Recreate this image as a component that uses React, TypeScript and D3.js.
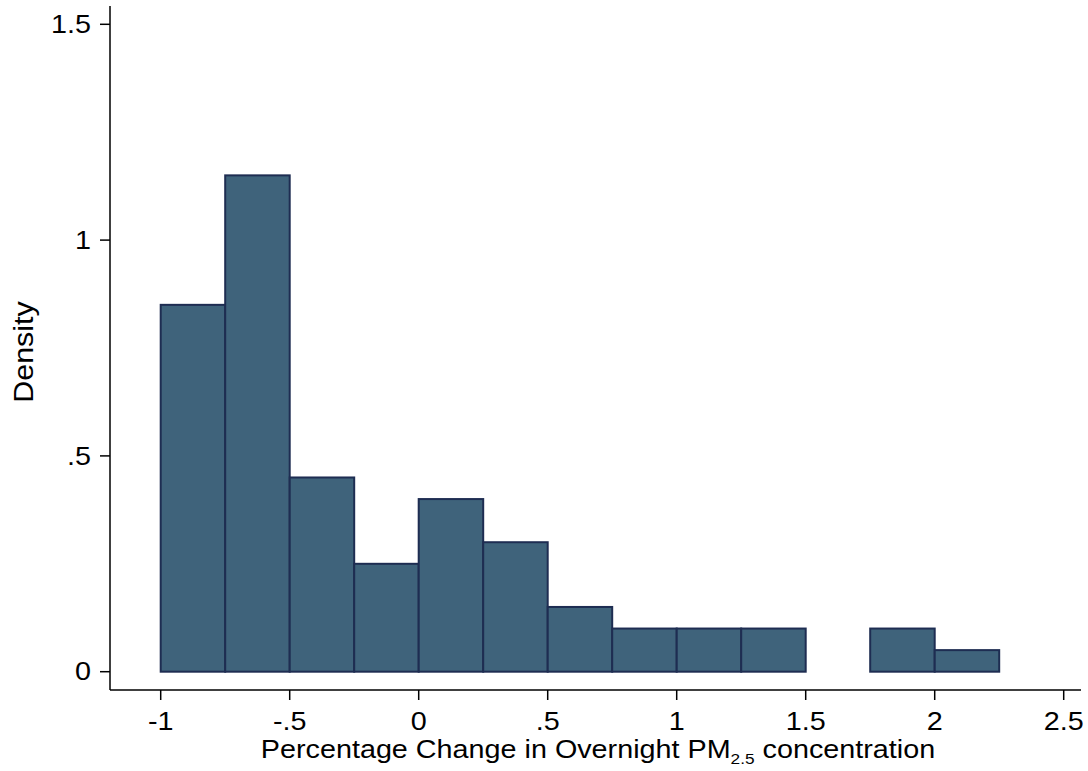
import React from "react";
import * as d3 from "d3";

const binStarts = [-1, -0.75, -0.5, -0.25, 0, 0.25, 0.5, 0.75, 1, 1.25, 1.5, 1.75, 2];
const binWidth = 0.25;
const densities = [0.85, 1.15, 0.45, 0.25, 0.4, 0.3, 0.15, 0.1, 0.1, 0.1, 0, 0.1, 0.05];
const xTicks = [-1, -0.5, 0, 0.5, 1, 1.5, 2, 2.5];
const yTicks = [0, 0.5, 1, 1.5];

const fmt = (v: number) => {
  if (v === 0) return "0";
  const s = String(v);
  return s.replace(/^0\./, ".").replace(/^-0\./, "-.");
};

export default function App() {
  const W = 1088, H = 771;
  const x = d3.scaleLinear().domain([-1, 2.5]).range([160.7, 1063.7]);
  const y = d3.scaleLinear().domain([0, 1.5]).range([671.7, 24.3]);
  const axisX = 110;
  const axisY = 690;
  const font = "'Liberation Sans', Arial, Helvetica, sans-serif";
  const sx = 1.15;
  return (
    <svg width={W} height={H} style={{ position: "absolute", left: 0, top: 0, background: "#fff" }}>
      <rect x={0} y={0} width={W} height={H} fill="#fff" />
      {binStarts.map((b, i) =>
        densities[i] > 0 ? (
          <rect
            key={i}
            x={x(b)}
            y={y(densities[i])}
            width={x(b + binWidth) - x(b)}
            height={y(0) - y(densities[i])}
            fill="#3f637b"
            stroke="#1e2d52"
            strokeWidth={2}
          />
        ) : null
      )}
      <line x1={axisX} x2={axisX} y1={6} y2={axisY} stroke="#000" strokeWidth={1.5} />
      <line x1={axisX} x2={1081} y1={axisY} y2={axisY} stroke="#000" strokeWidth={1.5} />
      {yTicks.map((t) => (
        <g key={"y" + t}>
          <line x1={axisX - 10} x2={axisX} y1={y(t)} y2={y(t)} stroke="#000" strokeWidth={1.5} />
          <text
            transform={`translate(91, ${y(t)}) scale(${sx},1)`}
            dy="0.35em"
            textAnchor="end"
            fontFamily={font}
            fontSize={25}
            fill="#000"
          >
            {fmt(t)}
          </text>
        </g>
      ))}
      {xTicks.map((t) => (
        <g key={"x" + t}>
          <line x1={x(t)} x2={x(t)} y1={axisY} y2={axisY + 10} stroke="#000" strokeWidth={1.5} />
          <text
            transform={`translate(${x(t)}, 730) scale(${sx},1)`}
            textAnchor="middle"
            fontFamily={font}
            fontSize={25}
            fill="#000"
          >
            {fmt(t)}
          </text>
        </g>
      ))}
      <text
        transform={`translate(598, 758) scale(${sx},1)`}
        textAnchor="middle"
        fontFamily={font}
        fontSize={25}
        fill="#000"
      >
        Percentage Change in Overnight PM
        <tspan fontSize={15} dy={6}>2.5</tspan>
        <tspan dy={-6}> concentration</tspan>
      </text>
      <text
        transform={`translate(33, 352) rotate(-90) scale(1.13,1)`}
        textAnchor="middle"
        fontFamily={font}
        fontSize={27}
        fill="#000"
      >
        Density
      </text>
    </svg>
  );
}
